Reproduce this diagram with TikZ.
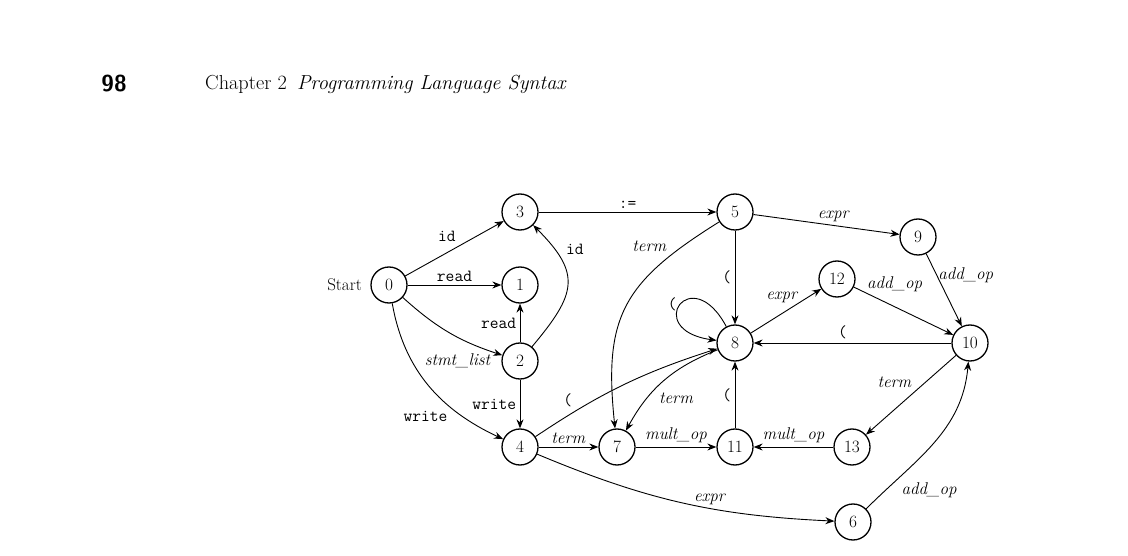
\documentclass[tikz,border=0pt]{standalone}
\usepackage{fontspec}% scalable Latin Modern
\usetikzlibrary{arrows.meta,% filled arrow tips
positioning}%              places Start beside state 0
\tikzset{every node/.style={font=\fontsize{17}{20}\selectfont}}

\begin{document}
\begin{tikzpicture}[
  x=1pt, y=1pt,
  >={Stealth[length=9pt,width=7pt]},
  state/.style={shape=circle, draw, line width=1.3pt, minimum size=36pt, inner sep=0pt},
  trans/.style={->, line width=0.9pt}
% every transition uses the same tip; labels sit beside the line
]
\useasboundingbox (0,0) rectangle (1128,555);

% running head
\path (114,471) node[font=\fontsize{23}{25}\selectfont\sffamily\bfseries] (page) {98};
\path (205,471) node[anchor=west, inner sep=0pt, font=\fontsize{20.3}{24}\selectfont] (head)
  {Chapter 2\enspace\textit{Programming Language Syntax}};

% states
\path (389,270) node[state] (s0) {$0$};
\path (520,270) node[state] (s1) {$1$};
\path (520,194) node[state] (s2) {$2$};
\path (520,343) node[state] (s3) {$3$};
\path (520,108) node[state] (s4) {$4$};
\path (735,343) node[state] (s5) {$5$};
\path (853,33)  node[state] (s6) {$6$};
\path (617,108) node[state] (s7) {$7$};
\path (735,212) node[state] (s8) {$8$};
\path (918,318) node[state] (s9) {$9$};
\path (970,212) node[state] (s10) {$10$};
\path (735,108) node[state] (s11) {$11$};
\path (837,276) node[state] (s12) {$12$};
\path (852,108) node[state] (s13) {$13$};

\node[left=5pt of s0] (start) {Start};

% left part
\draw[trans] (s0) -- node[above left, pos=.55] {\texttt{id}} (s3);
\draw[trans] (s0) -- node[above] {\texttt{read}} (s1);
\draw[trans] (s0) to[bend right=12] node[below left, pos=.92, inner sep=1pt] {\textit{stmt\_list}} (s2);
\draw[trans] (s0) to[out=-80,in=155] node[below left, pos=.68] {\texttt{write}} (s4);
\draw[trans] (s2) -- node[left] {\texttt{read}} (s1);
\draw[trans] (s2) to[out=50,in=-45,looseness=1.45] node[right, pos=.82, xshift=8pt] {\texttt{id}} (s3);
\draw[trans] (s2) -- node[left] {\texttt{write}} (s4);
\draw[trans] (s3) -- node[above] {\texttt{:=}} (s5);

% expression part
\draw[trans] (s5) -- node[above, pos=.55] {\textit{expr}} (s9);
\draw[trans] (s5) -- node[left] {\texttt{(}} (s8);
\draw[trans] (s5) to[out=212,in=96,looseness=1.25] node[above left, pos=.2] {\textit{term}} (s7);
\draw[trans] (s8) to[loop, out=118, in=172, min distance=75pt] node[left, pos=.5] {\texttt{(}} (s8);
\draw[trans] (s8) -- node[above left, pos=.68, inner sep=0pt] {\textit{expr}} (s12);
\draw[trans] (s12) -- node[above right, pos=.12, inner sep=1pt] {\textit{add\_op}} (s10);
\draw[trans] (s9) -- node[right, pos=.3, inner sep=1pt] {\textit{add\_op}} (s10);
\draw[trans] (s10) -- node[above, pos=.55] {\texttt{(}} (s8);
\draw[trans] (s4) to[bend left=8] node[above left, pos=.22] {\texttt{(}} (s8);
\draw[trans] (s8) to[bend right=20] node[below right, pos=.6] {\textit{term}} (s7);
\draw[trans] (s4) -- node[above] {\textit{term}} (s7);
\draw[trans] (s7) -- node[above] {\textit{mult\_op}} (s11);
\draw[trans] (s13) -- node[above] {\textit{mult\_op}} (s11);
\draw[trans] (s11) -- node[left] {\texttt{(}} (s8);
\draw[trans] (s10) -- node[above left, pos=.45] {\textit{term}} (s13);
\draw[trans] (s4) to[bend right=10] node[above, pos=.6] {\textit{expr}} (s6);
\draw[trans] (s6) to[out=45,in=-95] node[right, pos=.13, inner sep=4pt, xshift=12pt] {\textit{add\_op}} (s10);
\end{tikzpicture}
\end{document}
